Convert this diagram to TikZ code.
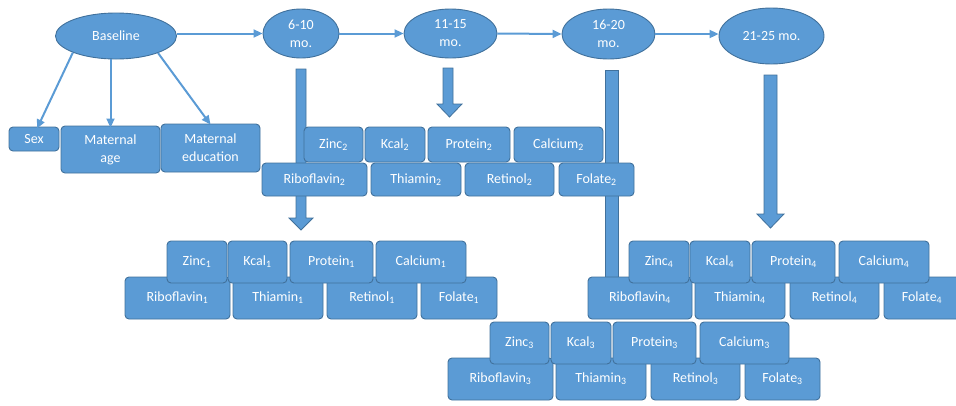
\documentclass[tikz,border=0pt]{standalone}
\usepackage{fontspec}
\setmainfont{Carlito}
\usetikzlibrary{arrows.meta,shapes.geometric}
\definecolor{fillb}{HTML}{5B9BD5}
\definecolor{edgeb}{HTML}{41719C}
\newcommand\sbx[1]{\textsubscript{#1}}
\begin{document}
\begin{tikzpicture}[x=1pt,y=-1pt,
 every node/.style={font=\fontsize{14}{18}\selectfont, text=white, inner sep=0pt},
 box/.style={draw=edgeb, fill=fillb, line width=0.9pt, rounded corners=4pt, align=center},
 oval/.style={ellipse, draw=edgeb, fill=fillb, line width=0.9pt, align=center},
 link/.style={draw=fillb, line width=2pt, -{Triangle[length=9pt,width=8pt]}},
 blockarrow/.style={draw=edgeb, fill=fillb, line width=0.8pt, line join=miter}
]
\useasboundingbox (0,0) rectangle (956,405);

% ellipses
\node[oval, minimum width=121, minimum height=46] (base) at (116,36) {Baseline};
\node[oval, minimum width=76, minimum height=49] (m1) at (301,33.5) {6-10\\mo.};
\node[oval, minimum width=93, minimum height=49] (m2) at (450.5,33.5) {11-15\\mo.};
\node[oval, minimum width=93, minimum height=50] (m3) at (608.5,34) {16-20\\mo.};
\node[oval, minimum width=105, minimum height=56] (m4) at (771.5,36) {21-25 mo.};

% left boxes
\node[box, minimum width=50, minimum height=24] (sex) at (34,139) {Sex};
\node[box, minimum width=99, minimum height=47] (age) at (110.5,149.5) {Maternal\\age};
\node[box, minimum width=99, minimum height=48] (edu) at (210.5,148) {Maternal\\education};

% thin connectors
\draw[link] (base.east |- m1.west) -- (m1.west);
\draw[link] (m1.east) -- (m2.west);
\draw[link] (m2.east) -- (m3.west);
\draw[link] (m3.east) -- (m3.east -| m4.west);
\draw[link] (base.201) -- ([xshift=3pt,yshift=-2pt]sex.north);
\draw[link] (age.north |- base.south) -- ([yshift=-2pt]age.north);
\draw[link] (base.-22) -- ([yshift=-1pt]edu.north);

% block arrows
\draw[blockarrow] (296,69) -- (306,69) -- (306,218) -- (313,218) -- (301,230) -- (289,218) -- (296,218) -- cycle;
\draw[blockarrow] (443,68) -- (453,68) -- (453,104) -- (462,104) -- (449.5,117) -- (437,104) -- (443,104) -- cycle;
\draw[blockarrow] (605,70) rectangle (618,290);
\draw[blockarrow] (764,75) -- (777,75) -- (777,214) -- (784,214) -- (770.5,228) -- (757,214) -- (764,214) -- cycle;

% group 2
\node[box, minimum width=105, minimum height=33] (rib2) at (314.5,179.5) {Riboflavin\sbx{2}};
\node[box, minimum width=90, minimum height=33] (thi2) at (416,179.5) {Thiamin\sbx{2}};
\node[box, minimum width=89, minimum height=33] (ret2) at (509.5,179.5) {Retinol\sbx{2}};
\node[box, minimum width=75, minimum height=33] (fol2) at (596.5,179.5) {Folate\sbx{2}};
\node[box, minimum width=59, minimum height=35] (zin2) at (333.5,144.5) {Zinc\sbx{2}};
\node[box, minimum width=60, minimum height=35] (kca2) at (395,144.5) {Kcal\sbx{2}};
\node[box, minimum width=82, minimum height=35] (pro2) at (469,144.5) {Protein\sbx{2}};
\node[box, minimum width=89, minimum height=35] (cal2) at (558.5,144.5) {Calcium\sbx{2}};

% group 1
\node[box, minimum width=105, minimum height=42] (rib1) at (177.5,298) {Riboflavin\sbx{1}};
\node[box, minimum width=90, minimum height=42] (thi1) at (278,298) {Thiamin\sbx{1}};
\node[box, minimum width=90, minimum height=42] (ret1) at (372,298) {Retinol\sbx{1}};
\node[box, minimum width=76, minimum height=42] (fol1) at (459,298) {Folate\sbx{1}};
\node[box, minimum width=60, minimum height=42] (zin1) at (197,262) {Zinc\sbx{1}};
\node[box, minimum width=59, minimum height=42] (kca1) at (257.5,262) {Kcal\sbx{1}};
\node[box, minimum width=83, minimum height=42] (pro1) at (331.5,262) {Protein\sbx{1}};
\node[box, minimum width=90, minimum height=42] (cal1) at (421,262) {Calcium\sbx{1}};

% group 4
\node[box, minimum width=104, minimum height=42] (rib4) at (640,298) {Riboflavin\sbx{4}};
\node[box, minimum width=90, minimum height=42] (thi4) at (740,298) {Thiamin\sbx{4}};
\node[box, minimum width=89, minimum height=42] (ret4) at (834.5,298) {Retinol\sbx{4}};
\node[box, minimum width=76, minimum height=42] (fol4) at (922,298) {Folate\sbx{4}};
\node[box, minimum width=60, minimum height=42] (zin4) at (659,262) {Zinc\sbx{4}};
\node[box, minimum width=60, minimum height=42] (kca4) at (720,262) {Kcal\sbx{4}};
\node[box, minimum width=83, minimum height=42] (pro4) at (793.5,262) {Protein\sbx{4}};
\node[box, minimum width=90, minimum height=42] (cal4) at (884,262) {Calcium\sbx{4}};

% group 3
\node[box, minimum width=105, minimum height=42] (rib3) at (500.5,379) {Riboflavin\sbx{3}};
\node[box, minimum width=90, minimum height=42] (thi3) at (601,379) {Thiamin\sbx{3}};
\node[box, minimum width=89, minimum height=42] (ret3) at (695.5,379) {Retinol\sbx{3}};
\node[box, minimum width=75, minimum height=42] (fol3) at (782.5,379) {Folate\sbx{3}};
\node[box, minimum width=59, minimum height=42] (zin3) at (519.5,343) {Zinc\sbx{3}};
\node[box, minimum width=60, minimum height=42] (kca3) at (581,343) {Kcal\sbx{3}};
\node[box, minimum width=83, minimum height=42] (pro3) at (654.5,343) {Protein\sbx{3}};
\node[box, minimum width=89, minimum height=42] (cal3) at (744.5,343) {Calcium\sbx{3}};
\end{tikzpicture}
\end{document}
